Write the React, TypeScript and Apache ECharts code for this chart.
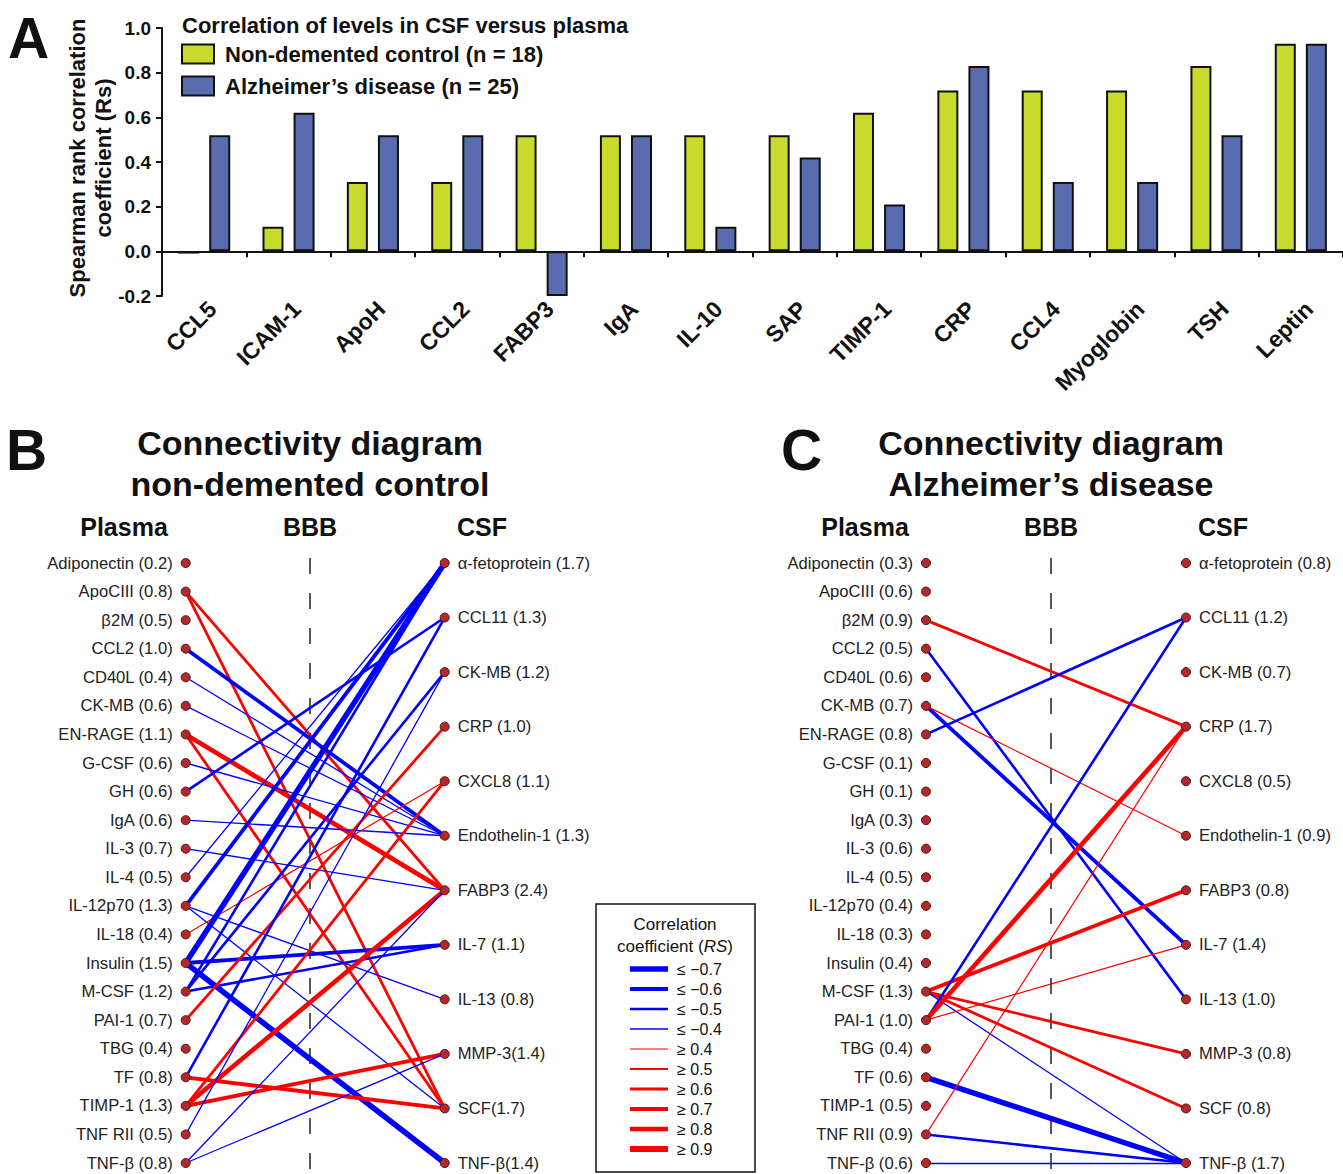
import React, { useEffect, useRef } from 'react';
import * as echarts from 'echarts';

const FONT = '"Liberation Sans", Arial, Helvetica, sans-serif';

// ---------- Panel A data ----------
const categories = ['CCL5', 'ICAM-1', 'ApoH', 'CCL2', 'FABP3', 'IgA', 'IL-10', 'SAP', 'TIMP-1', 'CRP', 'CCL4', 'Myoglobin', 'TSH', 'Leptin'];
const controlRs = [-0.01, 0.11, 0.31, 0.31, 0.52, 0.52, 0.52, 0.52, 0.62, 0.72, 0.72, 0.72, 0.83, 0.93];
const adRs = [0.52, 0.62, 0.52, 0.52, -0.2, 0.52, 0.11, 0.42, 0.21, 0.83, 0.31, 0.31, 0.52, 0.93];
const seriesNames = ['Non-demented control (n = 18)', 'Alzheimer\u2019s disease (n = 25)'];
const yMin = -0.2;
const yMax = 1.0;
const yStep = 0.2;

// ---------- Panel B data ----------
const plasmaB = ['Adiponectin (0.2)', 'ApoCIII (0.8)', '\u03B22M (0.5)', 'CCL2 (1.0)', 'CD40L (0.4)', 'CK-MB (0.6)', 'EN-RAGE (1.1)', 'G-CSF (0.6)', 'GH (0.6)', 'IgA (0.6)', 'IL-3 (0.7)', 'IL-4 (0.5)', 'IL-12p70 (1.3)', 'IL-18 (0.4)', 'Insulin (1.5)', 'M-CSF (1.2)', 'PAI-1 (0.7)', 'TBG (0.4)', 'TF (0.8)', 'TIMP-1 (1.3)', 'TNF RII (0.5)', 'TNF-\u03B2 (0.8)'];
const csfB = ['\u03B1-fetoprotein (1.7)', 'CCL11 (1.3)', 'CK-MB (1.2)', 'CRP (1.0)', 'CXCL8 (1.1)', 'Endothelin-1 (1.3)', 'FABP3 (2.4)', 'IL-7 (1.1)', 'IL-13 (0.8)', 'MMP-3(1.4)', 'SCF(1.7)', 'TNF-\u03B2(1.4)'];
// [plasma index, csf index, Rs]
const linksB: [number, number, number][] = [
  [1, 6, 0.6], [1, 10, 0.6],
  [3, 5, -0.6], [4, 5, -0.4], [5, 5, -0.4],
  [6, 6, 0.8], [6, 10, 0.6],
  [7, 5, -0.4], [8, 1, -0.5], [9, 5, -0.4],
  [10, 6, -0.4], [11, 0, -0.4],
  [12, 0, -0.6], [12, 8, -0.4], [12, 10, -0.4],
  [13, 4, 0.4],
  [14, 0, -0.7], [14, 7, -0.6], [14, 11, -0.7],
  [15, 0, -0.5], [15, 2, -0.5], [15, 7, -0.5],
  [16, 3, 0.6],
  [18, 1, -0.5], [18, 10, 0.7],
  [19, 4, 0.6], [19, 6, 0.8], [19, 9, 0.7],
  [20, 2, -0.4],
  [21, 6, -0.4], [21, 9, -0.4],
];

// ---------- Panel C data ----------
const plasmaC = ['Adiponectin (0.3)', 'ApoCIII (0.6)', '\u03B22M (0.9)', 'CCL2 (0.5)', 'CD40L (0.6)', 'CK-MB (0.7)', 'EN-RAGE (0.8)', 'G-CSF (0.1)', 'GH (0.1)', 'IgA (0.3)', 'IL-3 (0.6)', 'IL-4 (0.5)', 'IL-12p70 (0.4)', 'IL-18 (0.3)', 'Insulin (0.4)', 'M-CSF (1.3)', 'PAI-1 (1.0)', 'TBG (0.4)', 'TF (0.6)', 'TIMP-1 (0.5)', 'TNF RII (0.9)', 'TNF-\u03B2 (0.6)'];
const csfC = ['\u03B1-fetoprotein (0.8)', 'CCL11 (1.2)', 'CK-MB (0.7)', 'CRP (1.7)', 'CXCL8 (0.5)', 'Endothelin-1 (0.9)', 'FABP3 (0.8)', 'IL-7 (1.4)', 'IL-13 (1.0)', 'MMP-3 (0.8)', 'SCF (0.8)', 'TNF-\u03B2 (1.7)'];
const linksC: [number, number, number][] = [
  [2, 3, 0.6],
  [3, 8, -0.5],
  [5, 7, -0.6], [5, 5, 0.4],
  [6, 1, -0.5],
  [15, 6, 0.7], [15, 9, 0.6], [15, 10, 0.6], [15, 11, -0.4],
  [16, 1, -0.5], [16, 3, 0.8], [16, 7, 0.4],
  [18, 11, -0.7],
  [20, 3, 0.4], [20, 11, -0.5],
  [21, 11, -0.4],
];

// ---------- line legend ----------
const legendLabels = ['\u2264 \u22120.7', '\u2264 \u22120.6', '\u2264 \u22120.5', '\u2264 \u22120.4', '\u2265 0.4', '\u2265 0.5', '\u2265 0.6', '\u2265 0.7', '\u2265 0.8', '\u2265 0.9'];
const legendValues = [-0.7, -0.6, -0.5, -0.4, 0.4, 0.5, 0.6, 0.7, 0.8, 0.9];

function edgeWidth(r: number): number {
  const a = Math.abs(r);
  if (r < 0) {
    if (a >= 0.7) return 5.5;
    if (a >= 0.6) return 3.8;
    if (a >= 0.5) return 2.6;
    return 1.3;
  }
  if (a >= 0.9) return 5.8;
  if (a >= 0.8) return 4.6;
  if (a >= 0.7) return 3.8;
  if (a >= 0.6) return 2.8;
  if (a >= 0.5) return 2.1;
  return 1.2;
}
const edgeColor = (r: number) => (r < 0 ? '#0000ff' : '#ff0000');

function connectivity(plasma: string[], csf: string[], links: [number, number, number][], idx: number) {
  const nodes = [
    ...plasma.map((label, i) => ({
      name: 'p' + i,
      value: [0, i / (plasma.length - 1)],
      label: { position: 'left', formatter: label },
    })),
    ...csf.map((label, j) => ({
      name: 'c' + j,
      value: [1, j / (csf.length - 1)],
      label: { position: 'right', formatter: label },
    })),
  ];
  const edges = links.map(([p, c, r]) => ({
    source: p,
    target: plasma.length + c,
    value: r,
    lineStyle: { color: edgeColor(r), width: edgeWidth(r), opacity: 1, curveness: 0 },
  }));
  return {
    type: 'graph',
    coordinateSystem: 'cartesian2d',
    xAxisIndex: idx,
    yAxisIndex: idx,
    layout: 'none',
    symbol: 'circle',
    symbolSize: 9,
    data: nodes,
    links: edges,
    itemStyle: { color: '#b3292b', borderColor: '#4a1414', borderWidth: 1 },
    label: { show: true, fontSize: 16.6, color: '#222', fontFamily: FONT, distance: 8 },
    lineStyle: { opacity: 1 },
    emphasis: { disabled: true },
    silent: true,
    z: 3,
  };
}

function txt(x: number, y: number, text: string, size: number, weight: string, align = 'left', extra: any = {}) {
  return {
    type: 'text',
    x,
    y,
    z: 10,
    ...extra,
    style: {
      text,
      fill: '#111',
      font: `${weight} ${size}px ${FONT}`,
      textAlign: align,
      align,
      textVerticalAlign: 'middle',
      verticalAlign: 'middle',
      ...(extra.style || {}),
    },
  };
}

export default function App() {
  const ref = useRef<HTMLDivElement>(null);
  useEffect(() => {
    if (!ref.current) return;
    const chart = echarts.init(ref.current, null, { renderer: 'svg' });

    const graphic: any[] = [];
    // panel letters
    graphic.push(txt(8, 38, 'A', 57, 'bold'));
    graphic.push(txt(6, 450, 'B', 57, 'bold'));
    graphic.push(txt(781, 450, 'C', 57, 'bold'));
    // panel A title + axis name
    graphic.push(txt(182, 25, 'Correlation of levels in CSF versus plasma', 22, 'bold'));
    graphic.push({
      type: 'text', x: 90, y: 158, rotation: Math.PI / 2, z: 10,
      style: {
        text: 'Spearman rank correlation\ncoefficient (Rs)', fill: '#111',
        font: `bold 22px ${FONT}`, textAlign: 'center', align: 'center',
        textVerticalAlign: 'middle', verticalAlign: 'middle', lineHeight: 26,
      },
    });
    // panel B & C titles
    graphic.push(txt(310, 443, 'Connectivity diagram', 34, 'bold', 'center'));
    graphic.push(txt(310, 484, 'non-demented control', 34, 'bold', 'center'));
    graphic.push(txt(1051, 443, 'Connectivity diagram', 34, 'bold', 'center'));
    graphic.push(txt(1051, 484, 'Alzheimer\u2019s disease', 34, 'bold', 'center'));
    // headers
    [[124, 'Plasma'], [310, 'BBB'], [482, 'CSF'], [865, 'Plasma'], [1051, 'BBB'], [1223, 'CSF']].forEach(([x, t]) => {
      graphic.push(txt(x as number, 527, t as string, 25, 'bold', 'center'));
    });
    // BBB dashed lines
    [310, 1051].forEach((x) => {
      graphic.push({
        type: 'line', z: 1,
        shape: { x1: x, y1: 558, x2: x, y2: 1174 },
        style: { stroke: '#222', lineWidth: 1.5, lineDash: [16, 19] },
      });
    });
    // correlation legend box
    graphic.push({
      type: 'rect', z: 8,
      shape: { x: 596, y: 904, width: 159, height: 268 },
      style: { fill: '#fff', stroke: '#111', lineWidth: 1.5 },
    });
    graphic.push(txt(675, 924, 'Correlation', 17, 'normal', 'center'));
    graphic.push({
      type: 'text', x: 675, y: 946, z: 10,
      style: {
        text: 'coefficient ({i|RS})', fill: '#111', font: `normal 17px ${FONT}`,
        textAlign: 'center', align: 'center', textVerticalAlign: 'middle', verticalAlign: 'middle',
        rich: { i: { fontStyle: 'italic', fontSize: 17, fontFamily: FONT, fill: '#111' } },
      },
    });
    legendValues.forEach((v, k) => {
      const y = 969 + 20 * k;
      graphic.push({
        type: 'line', z: 10,
        shape: { x1: 630, y1: y, x2: 668, y2: y },
        style: { stroke: edgeColor(v), lineWidth: edgeWidth(v) },
      });
      graphic.push(txt(677, y, legendLabels[k], 16, 'normal'));
    });

    const option: any = {
      animation: false,
      backgroundColor: '#fff',
      textStyle: { fontFamily: FONT },
      graphic: { elements: graphic },
      legend: {
        data: seriesNames,
        left: 176,
        top: 38,
        orient: 'vertical',
        icon: 'rect',
        itemWidth: 32,
        itemHeight: 19,
        itemGap: 10,
        selectedMode: false,
        itemStyle: { borderColor: '#111', borderWidth: 2 },
        textStyle: { fontSize: 22, fontWeight: 'bold', color: '#111', fontFamily: FONT, padding: [0, 0, 0, 6] },
      },
      grid: [
        { left: 162, top: 28, width: 1181, height: 268, containLabel: false, outerBoundsMode: 'none' },
        { left: 185.7, top: 563, width: 259, height: 600, containLabel: false, outerBoundsMode: 'none' },
        { left: 926, top: 563, width: 260, height: 600, containLabel: false, outerBoundsMode: 'none' },
      ],
      xAxis: [
        {
          type: 'category', gridIndex: 0, data: categories,
          axisLine: { onZero: true, lineStyle: { color: '#111', width: 2 } },
          axisTick: { show: true, length: 6, lineStyle: { color: '#111', width: 2 } },
          axisLabel: { interval: 0, rotate: 45, margin: 1, verticalAlign: 'top', fontSize: 23, fontWeight: 'bold', color: '#111', fontFamily: FONT },
        },
        { type: 'value', gridIndex: 1, min: 0, max: 1, show: false },
        { type: 'value', gridIndex: 2, min: 0, max: 1, show: false },
      ],
      yAxis: [
        {
          type: 'value', gridIndex: 0, min: yMin, max: yMax, interval: yStep,
          axisLine: { show: true, lineStyle: { color: '#111', width: 2 } },
          axisTick: { show: true, length: 6, lineStyle: { color: '#111', width: 2 } },
          axisLabel: { fontSize: 19, fontWeight: 'bold', color: '#111', fontFamily: FONT, margin: 11, formatter: (v: number) => v.toFixed(1) },
          splitLine: { show: false },
        },
        { type: 'value', gridIndex: 1, min: 0, max: 1, inverse: true, show: false },
        { type: 'value', gridIndex: 2, min: 0, max: 1, inverse: true, show: false },
      ],
      series: [
        {
          name: seriesNames[0], type: 'bar', xAxisIndex: 0, yAxisIndex: 0, data: controlRs,
          barWidth: 21, barGap: '48%',
          itemStyle: { color: '#c8da2b', borderColor: '#111', borderWidth: 2 },
          silent: true,
        },
        {
          name: seriesNames[1], type: 'bar', xAxisIndex: 0, yAxisIndex: 0, data: adRs,
          barWidth: 21, barGap: '48%',
          itemStyle: { color: '#5a6cb0', borderColor: '#111', borderWidth: 2 },
          silent: true,
        },
        connectivity(plasmaB, csfB, linksB, 1),
        connectivity(plasmaC, csfC, linksC, 2),
      ],
    };
    chart.setOption(option);
    return () => chart.dispose();
  }, []);

  return (
    <div
      ref={ref}
      style={{ position: 'absolute', left: 0, top: 0, width: 1343, height: 1174, background: '#fff' }}
    />
  );
}
